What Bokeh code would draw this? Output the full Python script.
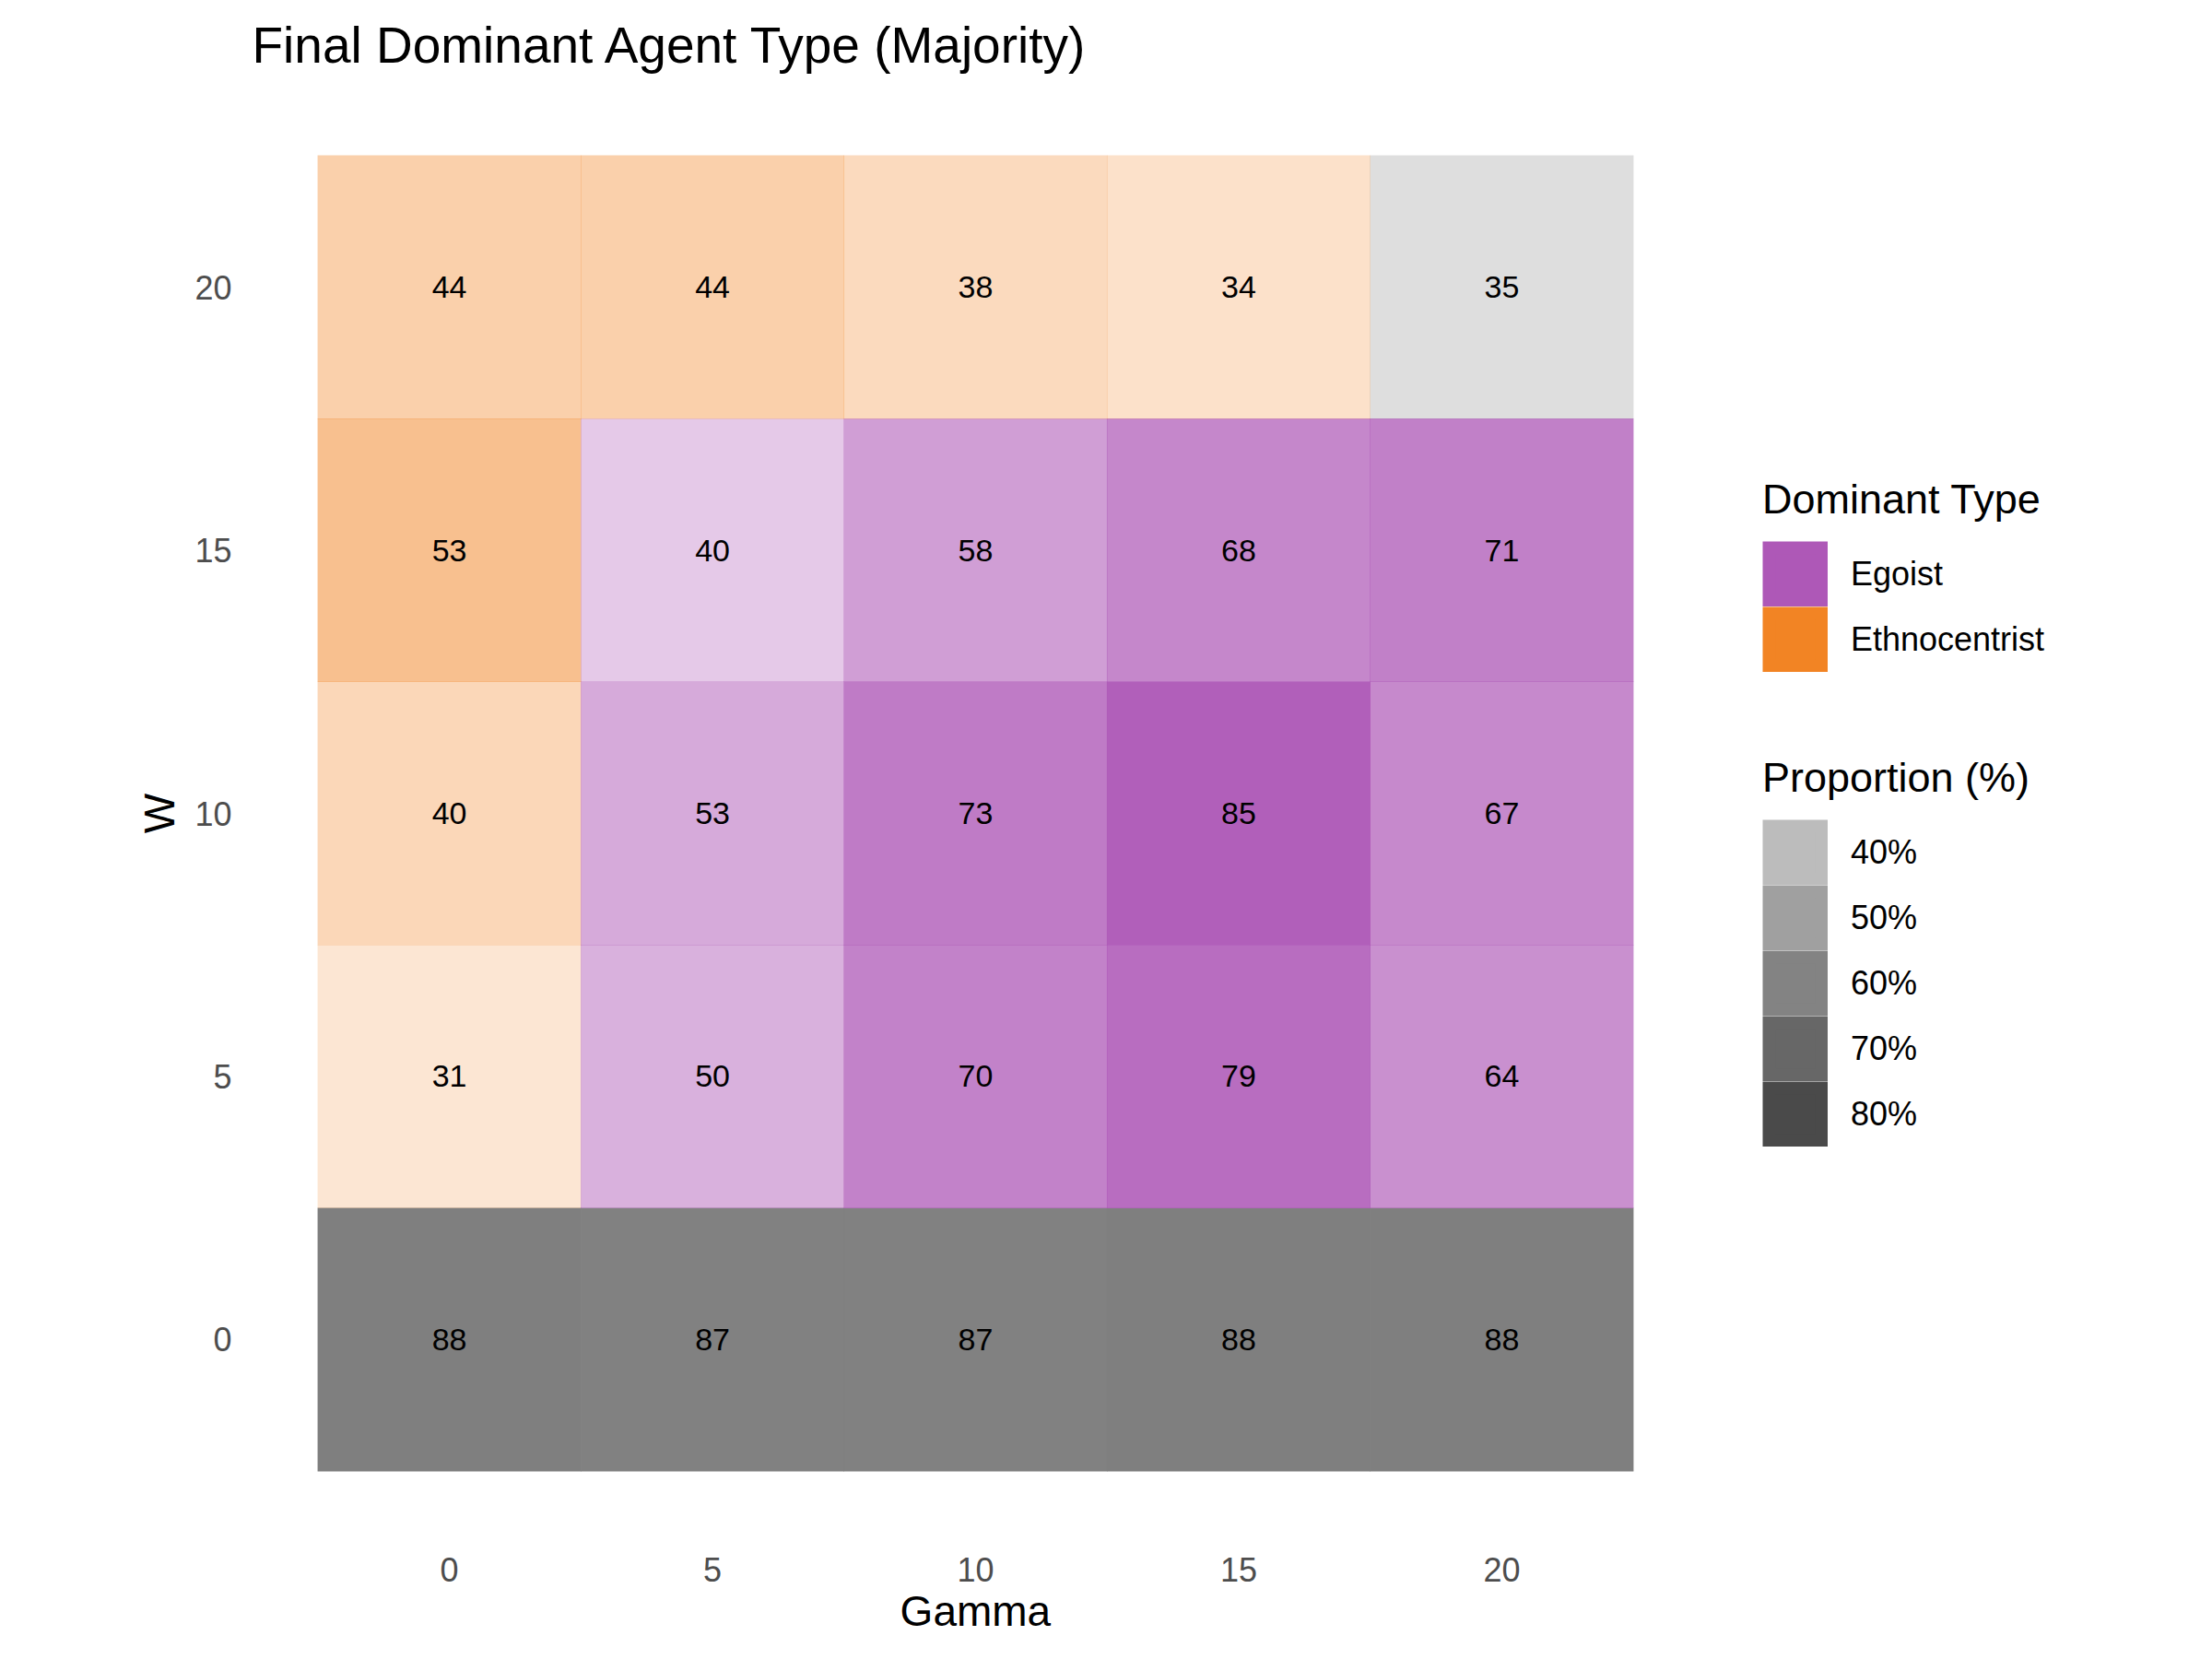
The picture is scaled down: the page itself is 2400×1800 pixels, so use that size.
from bokeh.plotting import figure
from bokeh.models import (ColumnDataSource, CategoricalColorMapper, FixedTicker,
                          Legend, LegendItem, Title)
from bokeh.core.properties import value
from bokeh.embed import file_html
from bokeh.resources import INLINE

# ---- data ----
gamma_levels = [0, 5, 10, 15, 20]
w_levels = [0, 5, 10, 15, 20]

# proportion (%) of the dominant type, rows = W (0..20), cols = Gamma (0..20)
prop_w0 = [88, 87, 87, 88, 88]
prop_w5 = [31, 50, 70, 79, 64]
prop_w10 = [40, 53, 73, 85, 67]
prop_w15 = [53, 40, 58, 68, 71]
prop_w20 = [44, 44, 38, 34, 35]

# dominant type (NA = no dominant type among the legend classes)
type_w0 = ["NA", "NA", "NA", "NA", "NA"]
type_w5 = ["Ethnocentrist", "Egoist", "Egoist", "Egoist", "Egoist"]
type_w10 = ["Ethnocentrist", "Egoist", "Egoist", "Egoist", "Egoist"]
type_w15 = ["Ethnocentrist", "Egoist", "Egoist", "Egoist", "Egoist"]
type_w20 = ["Ethnocentrist", "Ethnocentrist", "Ethnocentrist", "Ethnocentrist", "NA"]

type_factors = ["Egoist", "Ethnocentrist"]
type_colors = ["#AE58B7", "#F28424"]
na_color = "#7F7F7F"
legend_gray = "#333333"
prop_breaks = [40, 50, 60, 70, 80]

title_text = "Final Dominant Agent Type (Majority)"
x_title = "Gamma"
y_title = "W"

FONT = "Liberation Sans"

# ---- build table ----
props_by_row = [prop_w0, prop_w5, prop_w10, prop_w15, prop_w20]
types_by_row = [type_w0, type_w5, type_w10, type_w15, type_w20]
xs, ys, vals, types = [], [], [], []
for w, prow, trow in zip(w_levels, props_by_row, types_by_row):
    for g, v, t in zip(gamma_levels, prow, trow):
        xs.append(g); ys.append(w); vals.append(v); types.append(t)

vmin, vmax = min(vals), max(vals)
a_lo, a_hi = 0.2, 1.0


def alpha_of(v):
    return a_lo + (a_hi - a_lo) * (v - vmin) / (vmax - vmin)


def over_white(hexcol, a):
    h = hexcol.lstrip("#")
    rgb = [int(h[i:i + 2], 16) for i in (0, 2, 4)]
    out = [round(255 - a * (255 - c)) for c in rgb]
    return "#%02X%02X%02X" % tuple(out)


alphas = [alpha_of(v) for v in vals]
labels = [str(v) for v in vals]
src = ColumnDataSource(dict(x=xs, y=ys, val=vals, typ=types, alpha=alphas, lab=labels))

step = gamma_levels[1] - gamma_levels[0]
lo = gamma_levels[0] - step / 2
hi = gamma_levels[-1] + step / 2
pad = (hi - lo) * 0.05
x0, x1 = lo - pad, hi + pad

# panel geometry (px)
PANEL = 1570
LEFT, TOP = 273, 97
FRAME_W = 2400 - LEFT
px_per_unit = PANEL / (x1 - x0)
x_end = x0 + FRAME_W / px_per_unit

p = figure(width=2400, height=1800, frame_width=FRAME_W, frame_height=PANEL,
           x_range=(x0, x_end), y_range=(x0, x1),
           output_backend="svg", toolbar_location=None,
           min_border_left=LEFT, min_border_right=0,
           min_border_top=TOP, min_border_bottom=1800 - TOP - PANEL)
p.background_fill_color = "white"
p.border_fill_color = "white"
p.outline_line_color = None
p.xgrid.visible = False
p.ygrid.visible = False

mapper = CategoricalColorMapper(factors=type_factors, palette=type_colors, nan_color=na_color)
p.rect(x="x", y="y", width=step * 1.002, height=step * 1.002, source=src,
       fill_color={"field": "typ", "transform": mapper}, fill_alpha="alpha",
       line_color=None)
p.text(x="x", y="y", text="lab", source=src, text_align="center", text_baseline="middle",
       text_font=value(FONT), text_font_size="34px", text_color="black")

# ---- axes ----
for ax in (p.xaxis[0], p.yaxis[0]):
    ax.axis_line_color = None
    ax.major_tick_line_color = None
    ax.minor_tick_line_color = None
    ax.major_tick_in = 0
    ax.major_tick_out = 0
    ax.major_label_text_font = FONT
    ax.major_label_text_font_size = "36px"
    ax.major_label_text_color = "#4D4D4D"
    ax.axis_label_text_font = FONT
    ax.axis_label_text_font_size = "46px"
    ax.axis_label_text_font_style = "normal"
    ax.axis_label_text_color = "black"
p.xaxis[0].ticker = FixedTicker(ticks=gamma_levels)
p.yaxis[0].ticker = FixedTicker(ticks=w_levels)
p.yaxis.axis_label = y_title
p.xaxis.major_label_standoff = 22
p.yaxis.major_label_standoff = 22
p.yaxis.axis_label_standoff = 9

# x-axis title centred under the tiles (frame is wider because of the legend)
gamma_center_px = (sum(gamma_levels) / len(gamma_levels) - x0) * px_per_unit
XT_SIZE = 46
xt_width = 3.56 * XT_SIZE
xtitle = Title(text=x_title, align="left", offset=gamma_center_px - xt_width / 2,
               text_font=FONT, text_font_size=f"{XT_SIZE}px", text_font_style="normal",
               text_color="black", standoff=3)
p.add_layout(xtitle, "below")

# ---- title ----
p.title.text = title_text
p.title.text_font = FONT
p.title.text_font_size = "55px"
p.title.text_font_style = "normal"
p.title.text_color = "black"
p.title.align = "left"
p.title.vertical_align = "top"
p.title.standoff = 32

# ---- legends ----
GW = 71
INSET = GW * 0.1  # bokeh insets area glyphs by 10%; widen the stroke to fill it
NaN = float("nan")


def swatch(color):
    return p.rect(x=[NaN], y=[NaN], width=1, height=1, fill_color=color, fill_alpha=1.0,
                  line_color=color, line_width=2 * INSET, line_join="miter")


type_items = [LegendItem(label=n, renderers=[swatch(c)], index=0)
              for n, c in zip(type_factors, type_colors)]
prop_items = [LegendItem(label=f"{b}%", renderers=[swatch(over_white(legend_gray, alpha_of(b)))], index=0)
              for b in prop_breaks]


def style_legend(lg):
    lg.title_text_font = FONT
    lg.title_text_font_size = "45px"
    lg.title_text_font_style = "normal"
    lg.title_text_color = "black"
    lg.label_text_font = FONT
    lg.label_text_font_size = "36px"
    lg.label_text_color = "black"
    lg.glyph_width = GW
    lg.glyph_height = GW
    lg.label_height = GW
    lg.spacing = 0
    lg.label_standoff = 25
    lg.padding = 0
    lg.margin = 0
    lg.border_line_color = None
    lg.background_fill_alpha = 0
    lg.title_standoff = 19
    lg.click_policy = "none"


frame_bottom = TOP + PANEL
leg_x = 1912 - LEFT
leg1 = Legend(items=type_items, title="Dominant Type", location=(leg_x, frame_bottom - 729))
leg2 = Legend(items=prop_items, title="Proportion (%)", location=(leg_x, frame_bottom - 1244))
style_legend(leg1)
style_legend(leg2)
p.add_layout(leg1)
p.add_layout(leg2)

open("out.html", "w").write(file_html(p, INLINE))
